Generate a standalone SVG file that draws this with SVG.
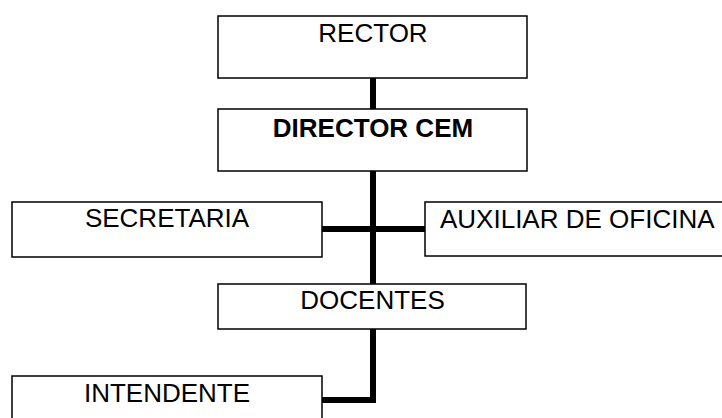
<svg xmlns="http://www.w3.org/2000/svg" width="722" height="418" viewBox="0 0 722 418">
<style>
.box{fill:#fff;stroke:#000;stroke-width:1.5}
.t{font-family:"Liberation Sans",Arial,sans-serif;font-size:26px;fill:#000;text-anchor:middle}
.b{font-weight:bold}
.c{fill:none;stroke:#000;stroke-width:6}
</style>
<rect width="722" height="418" fill="#fff"/>
<g id="connectors">
<line class="c" x1="373" y1="78" x2="373" y2="109"/>
<line class="c" x1="373" y1="171" x2="373" y2="284"/>
<line class="c" x1="322" y1="229" x2="425" y2="229"/>
<polyline class="c" points="373,329 373,400 322,400"/>
</g>
<g id="rector"><rect class="box" x="218" y="16" width="309" height="62"/><text class="t" x="373" y="42">RECTOR</text></g>
<g id="director"><rect class="box" x="218" y="109" width="309" height="62"/><text class="t b" x="373" y="137">DIRECTOR CEM</text></g>
<g id="secretaria"><rect class="box" x="12" y="202" width="310" height="55"/><text class="t" x="167" y="227">SECRETARIA</text></g>
<g id="auxiliar"><rect class="box" x="425" y="202" width="310" height="54"/><text class="t" x="440" y="228" style="text-anchor:start">AUXILIAR DE OFICINA</text></g>
<g id="docentes"><rect class="box" x="218" y="284" width="308" height="45"/><text class="t" x="372.5" y="309">DOCENTES</text></g>
<g id="intendente"><rect class="box" x="12" y="376" width="310" height="50"/><text class="t" x="167" y="402">INTENDENTE</text></g>
</svg>
